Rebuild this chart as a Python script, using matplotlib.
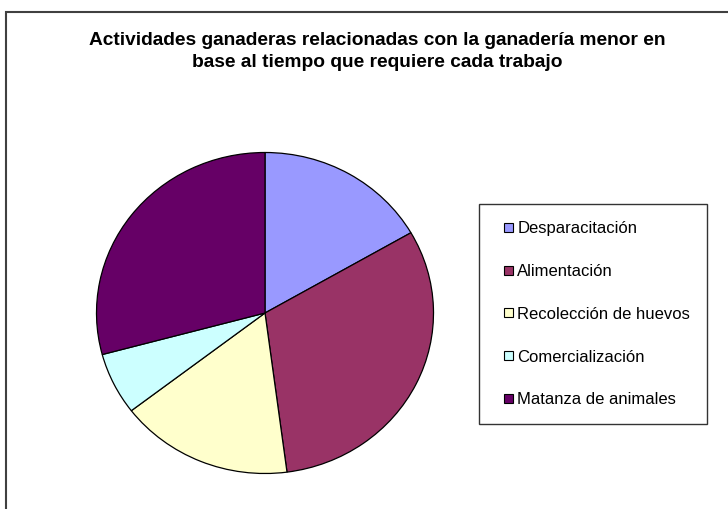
import matplotlib.pyplot as plt
from matplotlib.patches import Rectangle
from matplotlib.legend_handler import HandlerPatch

plt.rcParams['font.family'] = ['Liberation Sans', 'DejaVu Sans']

labels = ['Desparacitación', 'Alimentación', 'Recolección de huevos',
          'Comercialización', 'Matanza de animales']
values = [8, 15, 8, 3, 14]
colors = ['#9999FF', '#993366', '#FFFFCC', '#CCFFFF', '#660066']

W, H = 728, 509
fig = plt.figure(figsize=(W / 100, H / 100), dpi=100)

# outer chart border (right and bottom run off the image)
fig.patches.append(Rectangle((6 / W, -0.05), 1.2, 1 - 12 / H + 0.05,
                             transform=fig.transFigure, fill=False,
                             edgecolor='#404040', linewidth=1.5))

fig.text(377 / W, 1 - 51.5 / H,
         'Actividades ganaderas relacionadas con la ganadería menor en\n'
         'base al tiempo que requiere cada trabajo',
         ha='center', va='center', fontsize=13.8, fontweight='bold',
         linespacing=1.45)

# pie is slightly wider than tall in the reference
cx, cy, rx, ry = 265, 313, 168.5, 160.5
ax = fig.add_axes([(cx - rx) / W, 1 - (cy + ry) / H, 2 * rx / W, 2 * ry / H])
wedges, _ = ax.pie(values, colors=colors, startangle=90, counterclock=False,
                   wedgeprops=dict(edgecolor='black', linewidth=0.9))
ax.set_aspect('auto')
ax.set_xlim(-1, 1)
ax.set_ylim(-1, 1)
ax.axis('off')


def square(legend, orig_handle, xdescent, ydescent, width, height, fontsize):
    s = 9 * 72 / 100
    return Rectangle((width - s - xdescent, height / 2 - s / 2 - ydescent), s, s)


leg = fig.legend(wedges, labels, loc='upper left',
                 bbox_to_anchor=(479 / W, 1 - 205 / H, 228 / W, 0.001),
                 mode='expand', fontsize=12, frameon=True, fancybox=False,
                 edgecolor='black', labelspacing=1.67, handlelength=1.05,
                 handletextpad=0.25, borderpad=1.0, borderaxespad=0,
                 handler_map={w: HandlerPatch(patch_func=square) for w in wedges})
leg.get_frame().set_linewidth(1.0)
for h in leg.legend_handles:
    h.set_edgecolor('black')
    h.set_linewidth(0.8)

fig.savefig('out.png', dpi=100)
